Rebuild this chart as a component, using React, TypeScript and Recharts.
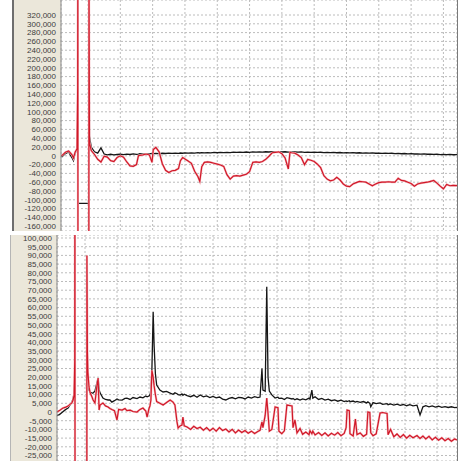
import { LineChart, Line, XAxis, YAxis, CartesianGrid } from "recharts";

// time base shared by both panels (grid every 10 units)
const gridT = [10, 20, 30, 40, 50, 60, 70, 80, 90, 100, 110, 120];

const topTicks = [
  -160000, -140000, -120000, -100000, -80000, -60000, -40000, -20000, 0, 20000,
  40000, 60000, 80000, 100000, 120000, 140000, 160000, 180000, 200000, 220000,
  240000, 260000, 280000, 300000, 320000,
];

const botTicks = [
  -25000, -20000, -15000, -10000, -5000, 0, 5000, 10000, 15000, 20000, 25000, 30000, 35000,
  40000, 45000, 50000, 55000, 60000, 65000, 70000, 75000, 80000, 85000, 90000, 95000, 100000,
];

// upper panel
const topT = [
  1.7, 2, 3, 4, 5, 5.5, 6, 6.6, 6.8, 6.85,
  6.9, 10.25, 10.3, 10.45, 11, 12, 13, 14, 15, 16,
  17, 18, 19, 20, 21, 22, 23, 24, 25, 25.6,
  26, 27, 28, 29, 29.8, 30.2, 31, 32, 33, 34,
  35, 36, 37, 38, 38.6, 39.3, 40, 41, 42, 43,
  44, 44.6, 45.2, 46, 47, 48, 49, 50, 51, 52,
  53, 54, 55, 56, 57, 58, 59, 60, 61, 62,
  63, 64, 65, 66, 67, 68, 69, 70, 71, 72,
  72.5, 73, 74, 75, 76, 77, 78, 79, 80, 81,
  82, 83, 84, 85, 86, 87, 88, 89, 90, 91,
  92, 93, 94, 95, 96, 97, 98, 99, 100, 101,
  102, 103, 104, 105, 106, 107, 108, 109, 110, 111,
  112, 113, 114, 115, 116, 117, 118, 119, 120, 121,
  122, 123, 124.2,
];

const topBlack = [
  0, -2000, 5000, 9000, -4000, -11000, 6000, 14000, 75000, -108000,
  -108000, -108000, 420000, 45000, 20000, 9000, 6000, 18000, 4000, 2000,
  3500, 2000, 3000, 3500, 2500, 3800, 3000, 4200, 3400, 4000,
  4600, 3800, 5000, 4400, 5200, 4800, 5600, 5000, 5800, 5200,
  6000, 5400, 6200, 5600, 6400, 5800, 6600, 6000, 6800, 6200,
  7000, 6400, 7200, 6600, 7400, 6800, 7600, 7000, 7800, 7200,
  8000, 7400, 8200, 7600, 8400, 7800, 8600, 8000, 8800, 8200,
  9000, 8400, 9200, 8600, 9400, 8800, 9500, 8700, 9200, 8500,
  9000, 8400, 8900, 8200, 8700, 8000, 8500, 7800, 8300, 7600,
  8100, 7400, 7900, 7200, 7700, 7000, 7500, 6800, 7300, 6600,
  7100, 6400, 6900, 6200, 6700, 6000, 6500, 5800, 6300, 5600,
  6000, 5300, 5800, 5000, 5500, 4700, 5200, 4400, 4900, 4100,
  4600, 3800, 4300, 3500, 4000, 3200, 3700, 2900, 3400, 2600,
  3100, 2400, 2800,
];

const topRed = [
  0, 1000, 8000, 11000, 3000, -5000, 8000, 16000, 155000, 420000,
  -420000, -420000, 420000, 30000, 12000, 3000, -8000, -14000, -1000, -3000,
  -11000, -13000, -4000, 0, -3000, -14000, -23000, -24000, -20000, 0,
  1000, 2000, 4000, 2000, -15000, 14000, 19000, 9000, -18000, -33000,
  -38000, -34000, -33000, -29000, -11000, -4000, -7000, -12000, -17000, -35000,
  -47000, -58000, -25000, -15000, -14000, -15000, -17000, -19000, -21000, -24000,
  -43000, -53000, -46000, -45000, -46000, -44000, -42000, -36000, -15000, -14000,
  -15000, -13000, -8000, -1000, 7000, 8000, 9000, 5000, -5000, -30000,
  8000, 7000, 6000, 2000, -4000, -20000, -8000, -10000, -13000, -19000,
  -27000, -45000, -53000, -57000, -55000, -49000, -55000, -64000, -69000, -70000,
  -64000, -61000, -58000, -59000, -60000, -64000, -68000, -64000, -61000, -60000,
  -60000, -59000, -60000, -60000, -51000, -56000, -57000, -60000, -63000, -69000,
  -64000, -62000, -61000, -60000, -58000, -56000, -62000, -69000, -75000, -65000,
  -68000, -67000, -68000,
];

// lower panel
const botT = [
  1.25, 2, 3, 4, 4.7, 5.3, 5.9, 6.3, 6.6, 6.8,
  6.85, 6.9, 10.55, 10.6, 10.75, 10.9, 11.25, 11.6, 12.2, 12.5,
  13.1, 13.75, 14.1, 14.4, 14.7, 15.6, 16.4, 17.2, 17.8, 18.4,
  19.2, 20, 20.5, 21.6, 22.5, 23.1, 24.1, 25, 26.25, 27.2,
  28.1, 29, 29.4, 30, 30.3, 30.6, 30.9, 31.3, 31.6, 32,
  32.4, 33.4, 34.4, 35.5, 36.6, 37.5, 38.1, 38.75, 39.1, 39.7,
  40.3, 40.6, 41, 41.9, 43, 44, 45, 46, 47, 48,
  49, 50, 51, 52, 53, 54, 55, 56, 57, 58,
  59, 60, 61, 62, 63, 64, 64.7, 65.3, 65.6, 66.3,
  66.8, 67.2, 67.6, 68.4, 69.4, 70.3, 70.6, 71.5, 72.3, 73.1,
  74.7, 75, 75.6, 76.25, 77.2, 78, 79, 80, 80.3, 80.9,
  81.2, 81.9, 83, 84, 85, 86, 87, 88, 89, 90,
  91, 91.6, 91.9, 92.6, 92.8, 93.8, 94.5, 95, 96, 97,
  98, 98.4, 99, 99.3, 100, 101, 102.2, 103, 104.4, 104.7,
  105.5, 106.5, 107.5, 108.5, 109.5, 110.5, 111.5, 112.5, 113.75, 114.7,
  115.6, 116.5, 117.5, 118.5, 119.5, 120.5, 121.5, 122.5, 123.5, 124.5,
  125.5, 126.25,
];

const botBlack = [
  -2000, -1500, 0, 1500, 2300, 4000, 5700, 8000, 11000, 18000,
  150000, -150000, -150000, 30000, 24000, 18400, 12600, 11500, 10900, 10900,
  12000, 17000, 19500, 13000, 11000, 8000, 7200, 6900, 6900, 5700,
  6500, 7500, 7000, 6800, 7800, 8000, 7200, 8300, 7700, 8600,
  8100, 9200, 8700, 9200, 9800, 12000, 24000, 57600, 38000, 22000,
  15500, 12600, 11500, 11800, 10900, 10200, 11000, 10500, 10000, 9800,
  10400, 9600, 10200, 9400, 8800, 9600, 8500, 9800, 8700, 9200,
  8300, 9000, 8100, 8600, 7400, 6900, 7800, 8300, 7600, 8400,
  8200, 7500, 8600, 8000, 8800, 8300, 8600, 25000, 12600, 12000,
  72000, 20000, 12000, 9800, 8000, 8500, 7800, 8000, 7200, 8200,
  7500, 7800, 7000, 7600, 6900, 7500, 7000, 8000, 7400, 12600,
  8000, 8800, 7200, 7800, 6800, 7400, 6500, 7000, 6200, 6800,
  6000, 6400, 6000, 6500, 5900, 6300, 5700, 6100, 5500, 6000,
  5200, 5800, 5000, 3000, 5400, 4800, 5200, 4400, 4800, 4200,
  4600, 4000, 4500, 3800, 4300, 3600, 4200, 3500, 3900, -1700,
  3000, 3600, 3000, 3500, 2800, 3300, 2700, 3100, 2600, 3000,
  2500, 2700,
];

const botRed = [
  0, 800, 2200, 2800, 3400, 4400, 5200, 7000, 9800, 30000,
  150000, -150000, -150000, 90000, 35000, 23000, 14400, 11000, 8600, 7000,
  5200, 15500, 19500, 1100, 4000, 5200, 3500, 2900, 2000, 1400,
  800, -4600, 1500, 1100, 2000, 800, 1100, 300, 0, 1500,
  2300, 500, -2900, 2000, 3500, 6900, 24000, 20000, 15000, 10000,
  6000, 5000, 4000, 5500, 6900, 5700, 4000, -5700, -9200, -8000,
  -7500, -2900, -8000, -8600, -10000, -8200, -9500, -8800, -10500, -9000,
  -10800, -9300, -11000, -8900, -10600, -9800, -11500, -10000, -12000, -10400,
  -11800, -10600, -12200, -11000, -12400, -11200, -10500, -5700, -9000, -2000,
  8000, -1000, -11000, -10000, 2900, 2500, -11000, -12500, -10800, 4000,
  3500, -9000, -4500, -12000, -9500, -12800, -11500, -13000, -10800, -12500,
  -11000, -13200, -11800, -13500, -12000, -13800, -12200, -13300, -11800, -13600,
  -12300, -9000, 1100, 800, -12500, -13800, -4000, -13000, -12000, -14000,
  -12800, 0, -300, -12000, -13600, -12500, -600, -300, -800, -13000,
  -10000, -14200, -12600, -14600, -13000, -15000, -13400, -14800, -13500, -15200,
  -13800, -15500, -14000, -16000, -14500, -16200, -14800, -16500, -15200, -16800,
  -15500, -16000,
];

const topRows = topT.map((t, i) => ({ t, black: topBlack[i], red: topRed[i] }));
const botRows = botT.map((t, i) => ({ t, black: botBlack[i], red: botRed[i] }));

const fmt = (v: number) => v.toLocaleString("en-US");

const BEIGE = "#ebe7da";
const GRID = "#bcbcbc";

function Panel({
  rows,
  ticks,
  domainY,
  domainX,
  axisW,
  height,
}: {
  rows: { t: number; black: number; red: number }[];
  ticks: number[];
  domainY: [number, number];
  domainX: [number, number];
  axisW: number;
  height: number;
}) {
  return (
    <LineChart width={458} height={height} data={rows} margin={{ top: 0, right: 1, bottom: 0, left: 0 }}>
      <CartesianGrid stroke={GRID} strokeDasharray="2 2" />
      <XAxis type="number" dataKey="t" domain={domainX} ticks={gridT} hide allowDataOverflow />
      <YAxis
        type="number"
        domain={domainY}
        ticks={ticks}
        interval={0}
        width={axisW}
        allowDataOverflow
        tickLine={false}
        tickSize={3}
        axisLine={{ stroke: "#8a8a8a" }}
        tick={{ fontSize: 8, fill: "#3c3c3c" }}
        tickFormatter={fmt}
      />
      <Line type="linear" dataKey="black" stroke="#161616" strokeWidth={1.3} dot={false} isAnimationActive={false} />
      <Line type="linear" dataKey="red" stroke="#f6bcc2" strokeWidth={2.2} dot={false} isAnimationActive={false} />
      <Line type="linear" dataKey="red" stroke="#d01828" strokeWidth={1.2} dot={false} isAnimationActive={false} />
    </LineChart>
  );
}

export default function App() {
  return (
    <div
      style={{
        position: "absolute",
        left: 0,
        top: 0,
        width: 467,
        height: 467,
        background: "#fff",
        overflow: "hidden",
        fontFamily: "'Liberation Sans', Arial, sans-serif",
      }}
    >
      {/* upper panel */}
      <div style={{ position: "absolute", left: 12, top: 0, width: 49, height: 231, background: BEIGE, borderLeft: "2px solid #6e6e6e", boxSizing: "border-box" }} />
      <div style={{ position: "absolute", left: 0, top: 0 }}>
        <Panel rows={topRows} ticks={topTicks} domainY={[-170900, 354100]} domainX={[1.64, 124.2]} axisW={61} height={231} />
      </div>
      <div style={{ position: "absolute", left: 457, top: 0, width: 1, height: 231, background: "#7a7a7a" }} />

      {/* lower panel */}
      <div style={{ position: "absolute", left: 10, top: 235, width: 47, height: 226, background: BEIGE, borderLeft: "1px solid #b5b5b5", boxSizing: "border-box" }} />
      <div style={{ position: "absolute", left: 0, top: 235 }}>
        <Panel rows={botRows} ticks={botTicks} domainY={[-28160, 101720]} domainX={[1.25, 126.25]} axisW={57} height={226} />
      </div>
      <div style={{ position: "absolute", left: 457, top: 235, width: 1, height: 226, background: "#7a7a7a" }} />
    </div>
  );
}
